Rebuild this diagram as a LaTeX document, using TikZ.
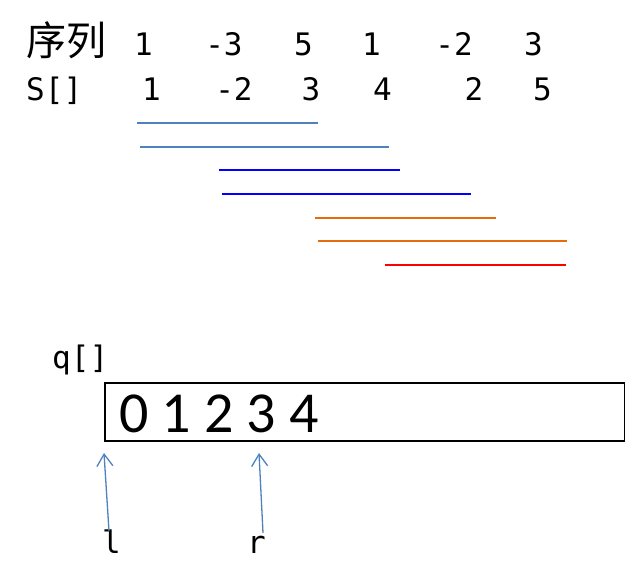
\documentclass[tikz,border=0pt]{standalone}
\usepackage{fontspec}
\usepackage{tikz}
\usetikzlibrary{arrows.meta}
\setmonofont{DejaVu Sans Mono}
\newfontfamily\cjk{Noto Sans CJK SC}
\newfontfamily\calib{Carlito}
\definecolor{steel}{HTML}{4F81BD}
\definecolor{pureblue}{HTML}{0000FF}
\definecolor{darkorange}{HTML}{E46C0A}

\begin{document}
\begin{tikzpicture}[x=1pt,y=-1pt,
    num/.style={anchor=base,inner sep=0pt,font=\fontsize{31}{36}\ttfamily},
    lbl/.style={anchor=base west,inner sep=0pt,font=\fontsize{31}{36}\ttfamily},
    seg/.style={line width=1.6pt},
    ptr/.style={steel,line width=1.3pt,-{Straight Barb[length=12pt,width=16pt,line width=1.3pt]}}]
          \useasboundingbox (0,0) rectangle (625,587);
          % sequence and prefix sums
          \node[anchor=base west,inner sep=0pt,font=\fontsize{40}{44}\cjk] (seq) at (26,55) {序列};
          \node[num] (a1) at (143.5,55) {1};
          \node[num] (a2) at (224,55) {-3};
          \node[num] (a3) at (303.5,55) {5};
          \node[num] (a4) at (371.5,55) {1};
          \node[num] (a5) at (454,55) {-2};
          \node[num] (a6) at (533.5,55) {3};
          \node[lbl] (S) at (26,100) {S[]};
          \node[num] (s1) at (151.5,100) {1};
          \node[num] (s2) at (234,100) {-2};
          \node[num] (s3) at (311,100) {3};
          \node[num] (s4) at (382.5,100) {4};
          \node[num] (s5) at (474,100) {2};
          \node[num] (s6) at (542.5,100) {5};
          % intervals
          \draw[seg,steel] (137,123) -- (318,123);
          \draw[seg,steel] (140,147) -- (389,147);
          \draw[seg,pureblue] (219,170) -- (400,170);
          \draw[seg,pureblue] (222,194) -- (471,194);
          \draw[seg,darkorange] (315,218) -- (496,218);
          \draw[seg,darkorange] (318,241) -- (567,241);
          \draw[seg,red] (385,265) -- (566,265);
          % queue
          \node[lbl] (q) at (52,368) {q[]};
          \node[draw,line width=2pt,anchor=north west,inner sep=0pt,
                minimum width=520pt,minimum height=58pt] (qbox) at (104,381.5) {};
          \node[anchor=base west,inner sep=0pt,font=\fontsize{58}{62}\calib] (qnum) at (119,432) {0 1 2 3 4};
          \node[lbl] (l) at (102,553) {l};
          \node[lbl] (r) at (247,553) {r};
          \coordinate (ltail) at (109,531);
          \coordinate (ltip) at (104,453);
          \coordinate (rtail) at (263,533);
          \coordinate (rtip) at (259,453);
          \draw[ptr] (ltail) -- (ltip);
          \draw[ptr] (rtail) -- (rtip);
        \end{tikzpicture}
\end{document}
